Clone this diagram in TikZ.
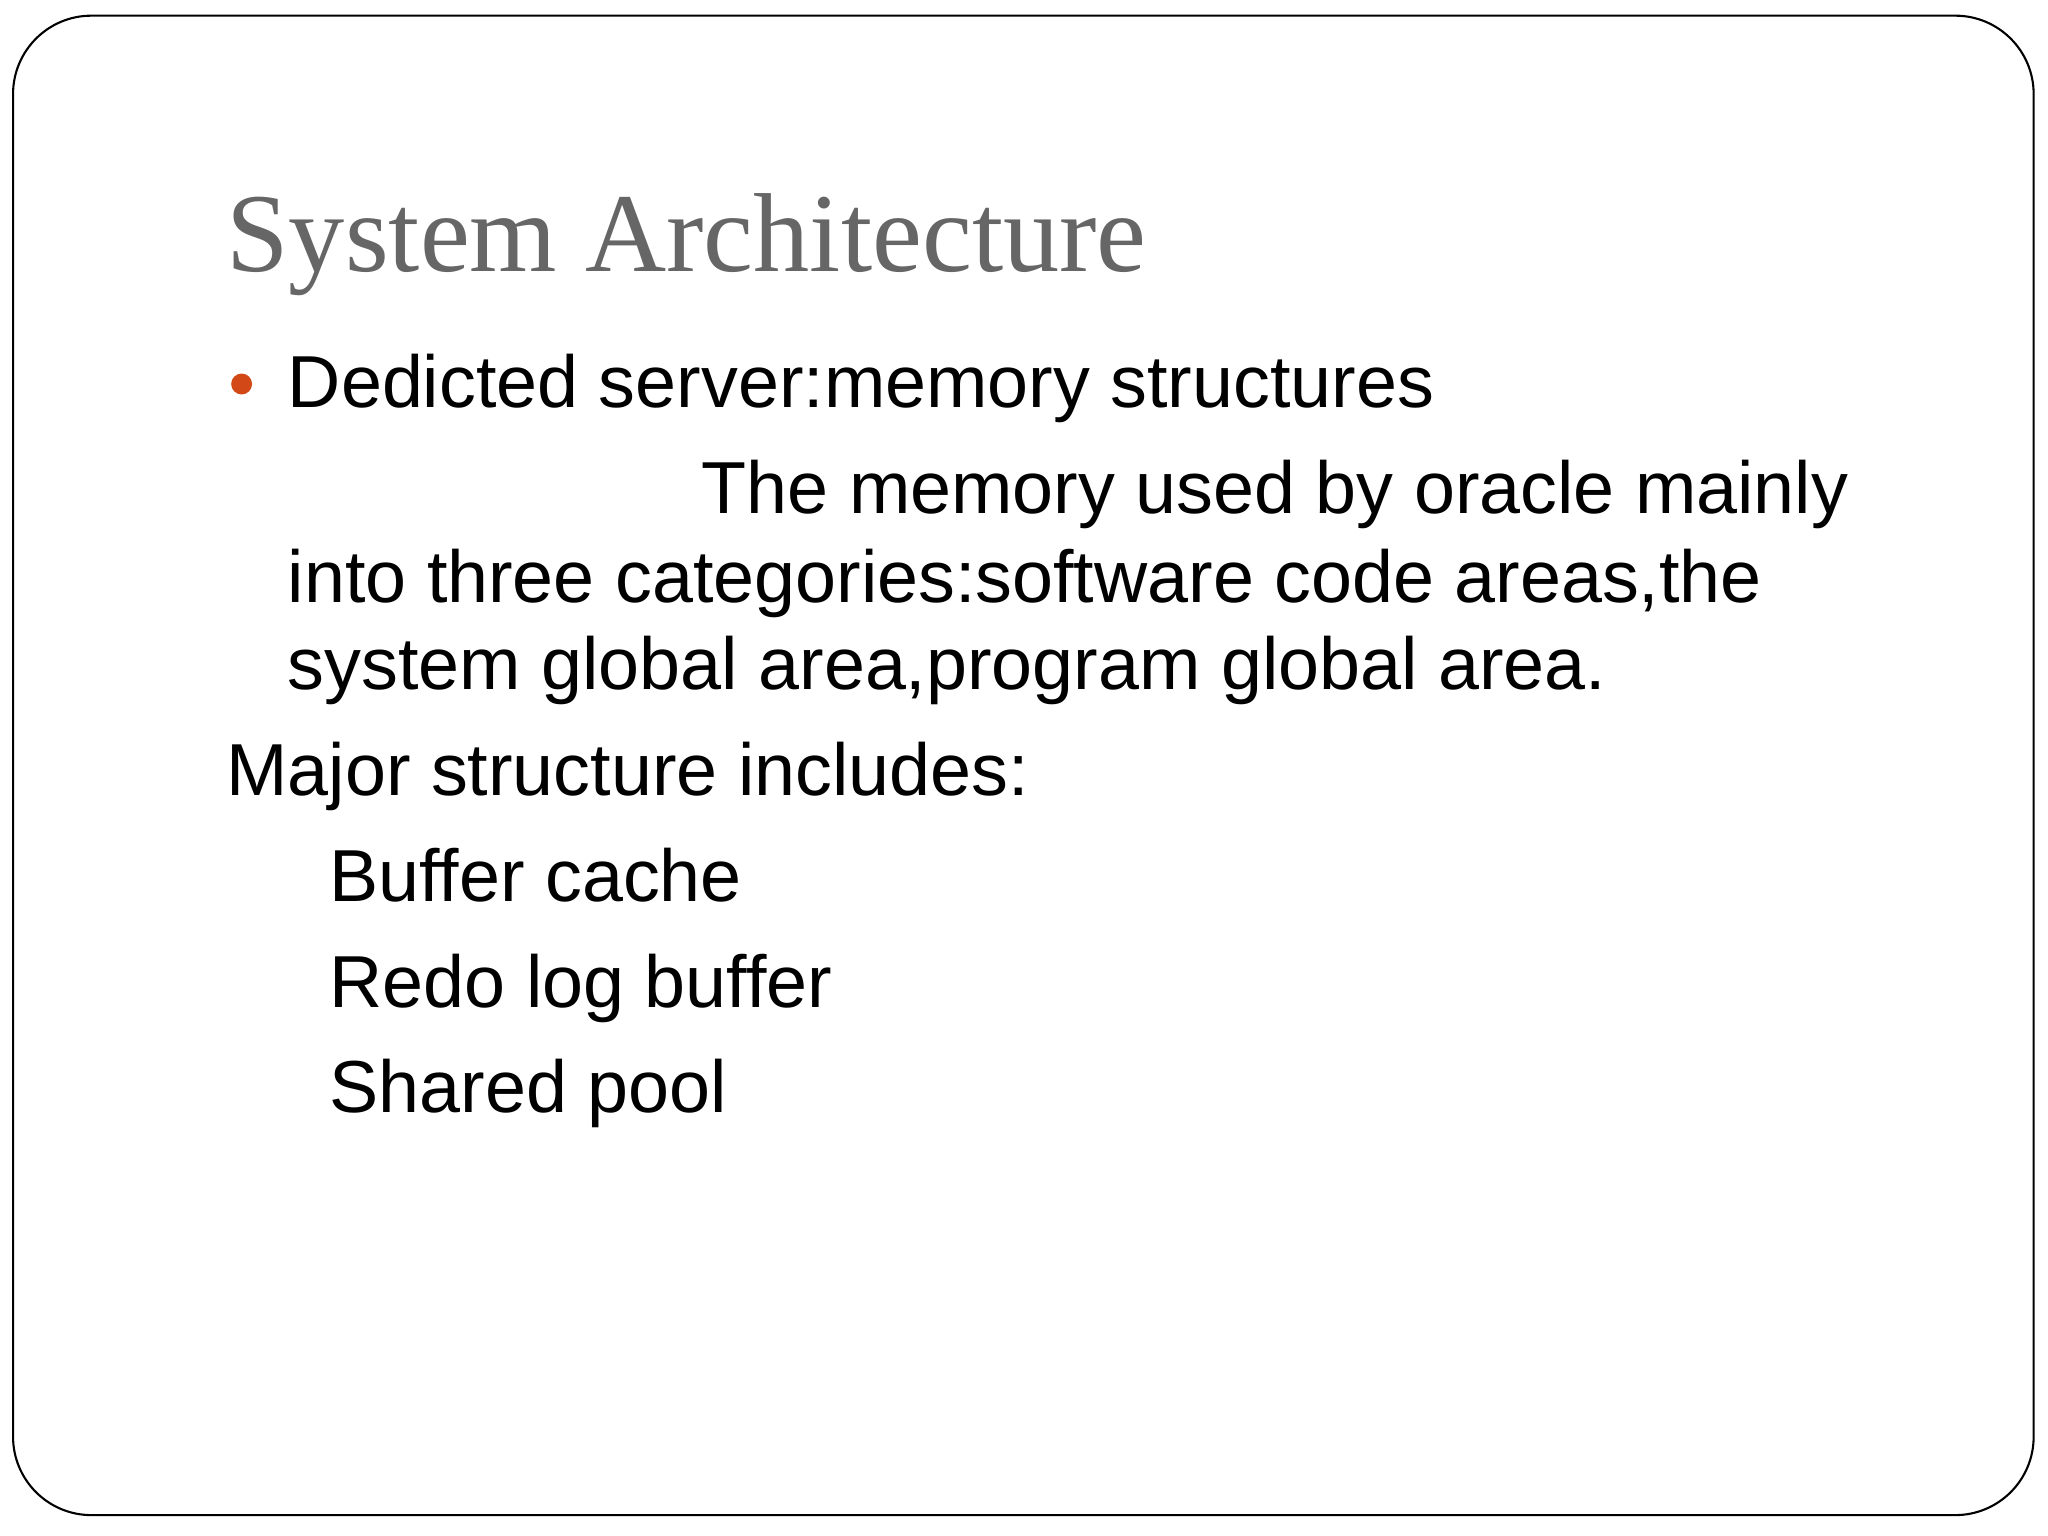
\documentclass[tikz,border=0pt]{standalone}
\usepackage{fontspec}
\setmainfont{Liberation Sans}
\newfontfamily\titlefont{Liberation Serif}
\definecolor{titlegray}{HTML}{666666}
\definecolor{bulletorange}{HTML}{D34817}
\begin{document}
\begin{tikzpicture}[x=0.5pt,y=-0.5pt,
  body/.style={anchor=base west,inner sep=0pt,font=\fontsize{28.2}{32}\selectfont,text=black}]
\useasboundingbox (0,0) rectangle (1568,1176);
\fill[white] (0,0) rectangle (1568,1176);
\draw[line width=0.8pt,rounded corners=30pt] (10,12) rectangle (1557,1160);
\node[anchor=base west,inner sep=0pt,font=\titlefont\fontsize{43}{46}\selectfont,text=titlegray] (title) at (173,208) {System Architecture};
\fill[bulletorange] (185,294) circle (8);
\node[body] (l1) at (220,312) {Dedicted server:memory structures};
\node[body] (l2) at (537,393) {The memory used by oracle mainly};
\node[body] (l3) at (220,461) {into three categories:software code areas,the};
\node[body] (l4) at (220,528) {system global area,program global area.};
\node[body] (l5) at (173,609) {Major structure includes:};
\node[body] (l6) at (252,690) {Buffer cache};
\node[body] (l7) at (252,771) {Redo log buffer};
\node[body] (l8) at (252,852) {Shared pool};
\end{tikzpicture}
\end{document}
